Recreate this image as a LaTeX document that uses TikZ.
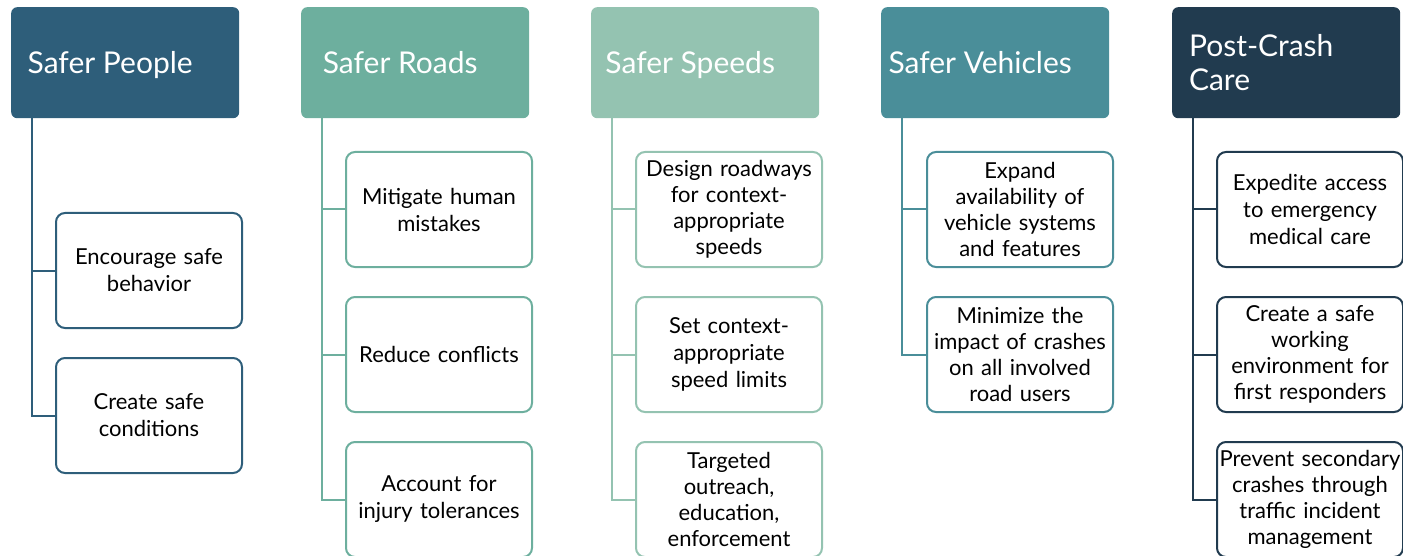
\documentclass[tikz,border=0pt]{standalone}
\usepackage{fontspec}
\setmainfont{Lato}
\usetikzlibrary{positioning}

\definecolor{cpeople}{HTML}{2E5E7A}
\definecolor{croads}{HTML}{6DAF9E}
\definecolor{cspeeds}{HTML}{94C3B1}
\definecolor{cvehicles}{HTML}{4A8E99}
\definecolor{ccare}{HTML}{213B4F}

\tikzset{
  head/.style={fill=#1,rounded corners=6pt,minimum width=228pt,minimum height=111pt,
    inner sep=0pt,anchor=north west},
  headtext/.style={text=white,align=left,inner sep=0pt,xshift=-15pt,
    text height=21pt,text depth=0pt,font=\fontsize{30}{34}\selectfont},
  item/.style={draw=#1,line width=2pt,fill=white,rounded corners=9pt,minimum width=186pt,
    minimum height=115pt,text width=184pt,inner xsep=1pt,align=center,anchor=north west,
    font=\fontsize{22}{27}\selectfont},
  tight/.style={font=\fontsize{22}{26}\selectfont},
  link/.style={draw=#1,line width=2pt}
}

\begin{document}
\begin{tikzpicture}[x=1pt,y=-1pt]
\useasboundingbox (0,0) rectangle (1403,556);

% headers
\node[head=cpeople,label={[headtext]center:Safer People}] (hp) at (11,7) {};
\node[head=croads,label={[headtext]center:Safer Roads}] (hr) at (301,7) {};
\node[head=cspeeds,label={[headtext]center:Safer Speeds}] (hs) at (591,7) {};
\node[head=cvehicles,label={[headtext]center:Safer Vehicles}] (hv) at (881,7) {};
\node[head=ccare,label={[headtext,text height=55pt,xshift=-10pt]center:Post-Crash\\Care}] (hc) at (1172,7) {};

% items
\node[item=cpeople] (p1) at (55,212) {Encourage safe\\behavior};
\node[item=cpeople] (p2) at (55,357) {Create safe\\conditions};
\node[item=croads] (r1) at (345,151) {Mitigate human\\mistakes};
\node[item=croads] (r2) at (345,296) {Reduce conflicts};
\node[item=croads] (r3) at (345,441) {Account for\\injury tolerances};
\node[item=cspeeds,tight] (s1) at (635,151) {Design roadways\\for context-\\appropriate\\speeds};
\node[item=cspeeds] (s2) at (635,296) {Set context-\\appropriate\\speed limits};
\node[item=cspeeds,tight] (s3) at (635,441) {Targeted\\outreach,\\education,\\enforcement};
\node[item=cvehicles,tight] (v1) at (926,151) {Expand\\availability of\\vehicle systems\\and features};
\node[item=cvehicles,tight] (v2) at (926,296) {Minimize the\\impact of crashes\\on all involved\\road users};
\node[item=ccare] (c1) at (1216,151) {Expedite access\\to emergency\\medical care};
\node[item=ccare,tight] (c2) at (1216,296) {Create a safe\\working\\environment for\\first responders};
\node[item=ccare,tight] (c3) at (1216,441) {Prevent secondary\\crashes through\\traffic incident\\management};

% trunks
\coordinate (tp) at ([xshift=21pt]hp.south west);
\coordinate (tr) at ([xshift=21pt]hr.south west);
\coordinate (ts) at ([xshift=21pt]hs.south west);
\coordinate (tv) at ([xshift=21pt]hv.south west);
\coordinate (tc) at ([xshift=21pt]hc.south west);

\draw[link=cpeople] (tp) |- (p2.west);
\draw[link=cpeople] (tp |- p1.west) -- (p1.west);
\draw[link=croads] (tr) |- (r3.west);
\draw[link=croads] (tr |- r1.west) -- (r1.west);
\draw[link=croads] (tr |- r2.west) -- (r2.west);
\draw[link=cspeeds] (ts) |- (s3.west);
\draw[link=cspeeds] (ts |- s1.west) -- (s1.west);
\draw[link=cspeeds] (ts |- s2.west) -- (s2.west);
\draw[link=cvehicles] (tv) |- (v2.west);
\draw[link=cvehicles] (tv |- v1.west) -- (v1.west);
\draw[link=ccare] (tc) |- (c3.west);
\draw[link=ccare] (tc |- c1.west) -- (c1.west);
\draw[link=ccare] (tc |- c2.west) -- (c2.west);
\end{tikzpicture}
\end{document}
